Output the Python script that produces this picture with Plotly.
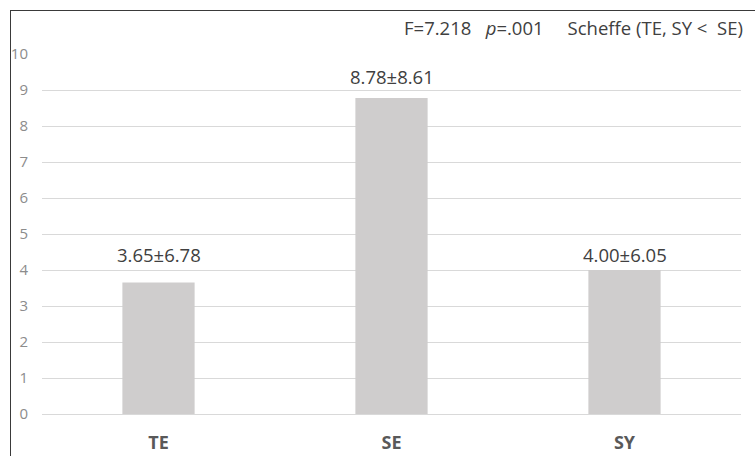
import plotly.graph_objects as go

categories = ["TE", "SE", "SY"]
means = [3.65, 8.78, 4.00]
sds = [6.78, 8.61, 6.05]
y_ticks = [0, 1, 2, 3, 4, 5, 6, 7, 8, 9, 10]
stat_f = "F=7.218"
stat_p = "<i>p</i>=.001"
stat_post = "Scheffe (TE, SY&nbsp;<&nbsp;&nbsp;SE)"

FONT = "Open Sans"
label_shift = [28.6, 21, 16]

fig = go.Figure()
fig.add_trace(go.Bar(
    x=categories, y=means, width=0.31,
    marker=dict(color="#cfcdcd", line=dict(width=0)),
    hoverinfo="skip",
))

for c, m, s, sh in zip(categories, means, sds, label_shift):
    fig.add_annotation(
        x=c, y=m, text=f"{m:.2f}±{s:.2f}", showarrow=False,
        yanchor="middle", yshift=sh,
        font=dict(family=FONT, size=18.5, color="#404040"),
    )

fig.add_annotation(
    xref="paper", yref="paper", x=(745 - 42) / 699, y=(414 - 27.5) / 360,
    xanchor="right", yanchor="middle", showarrow=False,
    text=stat_f + "&nbsp;" * 3 + stat_p + "&nbsp;" * 5 + stat_post,
    font=dict(family=FONT, size=18.5, color="#404040"),
)

# outer chart border (top and left visible)
fig.add_shape(type="line", xref="paper", yref="paper",
              x0=(10 - 42) / 699, x1=(760 - 42) / 699,
              y0=(414 - 10.5) / 360, y1=(414 - 10.5) / 360,
              line=dict(color="#3a3a3a", width=1))
fig.add_shape(type="line", xref="paper", yref="paper",
              x0=(10.5 - 42) / 699, x1=(10.5 - 42) / 699,
              y0=(414 - 10) / 360, y1=(414 - 470) / 360,
              line=dict(color="#3a3a3a", width=1))

fig.update_layout(
    width=755, height=456,
    margin=dict(l=42, r=14, t=54, b=42, autoexpand=False),
    paper_bgcolor="white", plot_bgcolor="white",
    showlegend=False,
    xaxis=dict(
        showgrid=False, showline=False, zeroline=False, automargin=False,
        tickfont=dict(family=FONT, size=18, color="#595959", weight="bold"),
        ticklabelstandoff=16,
    ),
    yaxis=dict(
        range=[0, 10], tickvals=y_ticks, automargin=False,
        showgrid=True, gridcolor="#d9d9d9", gridwidth=1,
        zeroline=True, zerolinecolor="#d9d9d9", zerolinewidth=1,
        showline=False,
        tickfont=dict(family=FONT, size=15, color="#8c8c8c"),
        ticklabelstandoff=13,
    ),
)

fig.write_html("out.html")
